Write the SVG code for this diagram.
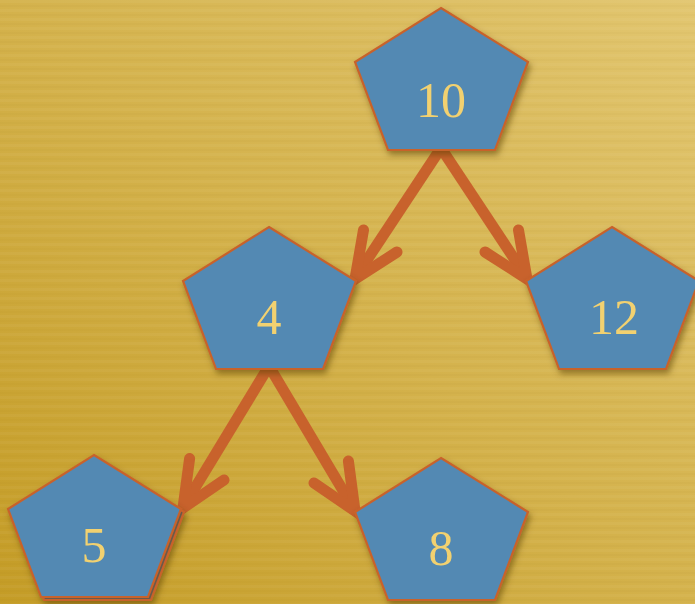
<svg xmlns="http://www.w3.org/2000/svg" width="695" height="604" viewBox="0 0 695 604">
<defs>
<linearGradient id="bg" x1="1" y1="0" x2="0" y2="1">
<stop offset="0" stop-color="#E2C670"/>
<stop offset="0.5" stop-color="#D4B24C"/>
<stop offset="1" stop-color="#C49C26"/>
</linearGradient>
<pattern id="stripes" width="8" height="9" patternUnits="userSpaceOnUse">
<rect x="0" y="0" width="8" height="3" fill="#ffffff" opacity="0.035"/>
<rect x="0" y="5" width="8" height="2" fill="#7a5a00" opacity="0.03"/>
</pattern>
<filter id="sh" x="-20%" y="-20%" width="150%" height="150%">
<feDropShadow dx="2" dy="4" stdDeviation="3" flood-color="#5a3c00" flood-opacity="0.55"/>
</filter>
<polygon id="pent" points="0,0 87,54 54,142 -53,142 -86,54"/>
</defs>
<style>
.node use{fill:#5289B3;stroke:#C8622C;stroke-width:2.2;stroke-linejoin:miter}
.lbl{font-family:"Liberation Serif","DejaVu Serif",serif;font-size:50px;fill:#F2D170;text-anchor:middle}
.edge{fill:none;stroke:#C8622C;stroke-width:11;stroke-linecap:round;stroke-linejoin:miter}
.shaft{fill:none;stroke:#C8622C;stroke-width:11;stroke-linecap:butt}
</style>
<rect width="695" height="604" fill="url(#bg)"/>
<rect width="695" height="604" fill="url(#stripes)"/>
<g id="connectors">
<line class="shaft" x1="441" y1="148" x2="359" y2="272"/>
<polyline class="edge" points="363.5,230 355,279 397,252"/>
<line class="shaft" x1="441" y1="148" x2="523" y2="272"/>
<polyline class="edge" points="518.5,230 527,279 485,252"/>
<line class="shaft" x1="269" y1="366" x2="187" y2="501"/>
<polyline class="edge" points="189.6,458.5 183,508 224,480"/>
<line class="shaft" x1="269" y1="366" x2="351" y2="504"/>
<polyline class="edge" points="348.4,461 355,511 314,483"/>
</g>
<g id="n10" class="node" filter="url(#sh)"><use href="#pent" x="441" y="8"/><text class="lbl" x="441" y="117">10</text></g>
<g id="n4" class="node" filter="url(#sh)"><use href="#pent" x="269" y="227"/><text class="lbl" x="269" y="334">4</text></g>
<g id="n12" class="node" filter="url(#sh)"><use href="#pent" x="612" y="227"/><text class="lbl" x="614" y="334">12</text></g>
<g id="n5" class="node" filter="url(#sh)"><use href="#pent" x="97" y="458" style="fill:#6a5a4a"/><use href="#pent" x="94" y="455"/><text class="lbl" x="94" y="562">5</text></g>
<g id="n8" class="node" filter="url(#sh)"><use href="#pent" x="441" y="458"/><text class="lbl" x="441" y="565">8</text></g>
</svg>
